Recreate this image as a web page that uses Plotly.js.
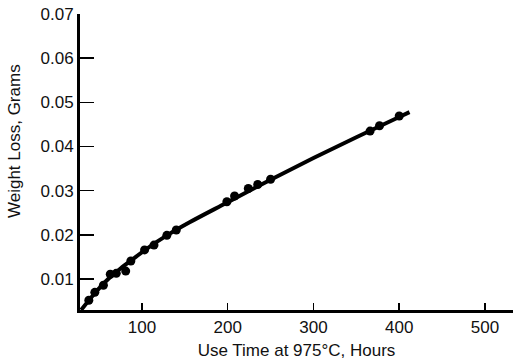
<!DOCTYPE html>
<html>
<head>
<meta charset="utf-8">
<script src="https://cdn.plot.ly/plotly-3.0.1.min.js"></script>
<style>html,body{margin:0;padding:0;background:#fff;}#chart{width:513px;height:360px;}</style>
</head>
<body>
<div id="chart"></div>
<script>
// Measured points: use time (hours) and weight loss (grams)
const hours = [38, 45, 55, 63, 70, 81, 87, 103, 114, 129, 140, 199, 208, 224, 235, 250, 366, 377, 400];
const weightLoss = [0.0052, 0.0070, 0.0086, 0.0111, 0.0113, 0.0118, 0.0141, 0.0166, 0.0177, 0.0199, 0.0211, 0.0275, 0.0288, 0.0305, 0.0314, 0.0326, 0.0435, 0.0447, 0.0469];
// Fitted curve
const curveHours = [29, 45, 60, 75, 90, 105, 130, 155, 200, 250, 300, 350, 400, 412];
const curveLoss = [0.0030, 0.0068, 0.0099, 0.0124, 0.0146, 0.0168, 0.0200, 0.0228, 0.0274, 0.0325, 0.0374, 0.0421, 0.0467, 0.0478];
const xTicks = [100, 200, 300, 400, 500];
const yTicks = [0.01, 0.02, 0.03, 0.04, 0.05, 0.06, 0.07];

const font = {family: '"Liberation Sans", Arial, Helvetica, sans-serif', size: 17, color: '#111'};

const traces = [
  {x: curveHours, y: curveLoss, mode: 'lines', line: {color: '#000', width: 4, shape: 'spline'}, hoverinfo: 'skip'},
  {x: hours, y: weightLoss, mode: 'markers', marker: {color: '#000', size: 9}}
];

const layout = {
  width: 513, height: 360,
  margin: {l: 80, r: 0, t: 14, b: 50},
  paper_bgcolor: '#fff', plot_bgcolor: '#fff',
  showlegend: false,
  font: font,
  xaxis: {
    range: [27.7, 532.7],
    tickvals: xTicks, ticktext: xTicks.map(String),
    ticks: 'inside', ticklen: 7, tickwidth: 1.5, tickcolor: '#000',
    showline: true, linecolor: '#000', linewidth: 2.5,
    showgrid: false, zeroline: false,
    tickfont: font,
    title: {text: 'Use Time at 975°C, Hours', font: font, standoff: 9}
  },
  yaxis: {
    range: [0.003, 0.07],
    tickvals: yTicks, ticktext: yTicks.map(v => v.toFixed(2)),
    ticks: 'inside', ticklen: 14, tickwidth: 1.5, tickcolor: '#000',
    showline: true, linecolor: '#000', linewidth: 3,
    showgrid: false, zeroline: false,
    tickfont: font
  },
  annotations: [{
    text: 'Weight Loss, Grams', xref: 'paper', yref: 'paper',
    x: -0.150, y: 0.571, xanchor: 'center', yanchor: 'middle',
    textangle: -90, showarrow: false, font: font
  }]
};

Plotly.newPlot('chart', traces, layout, {staticPlot: true, displayModeBar: false});
</script>
</body>
</html>
